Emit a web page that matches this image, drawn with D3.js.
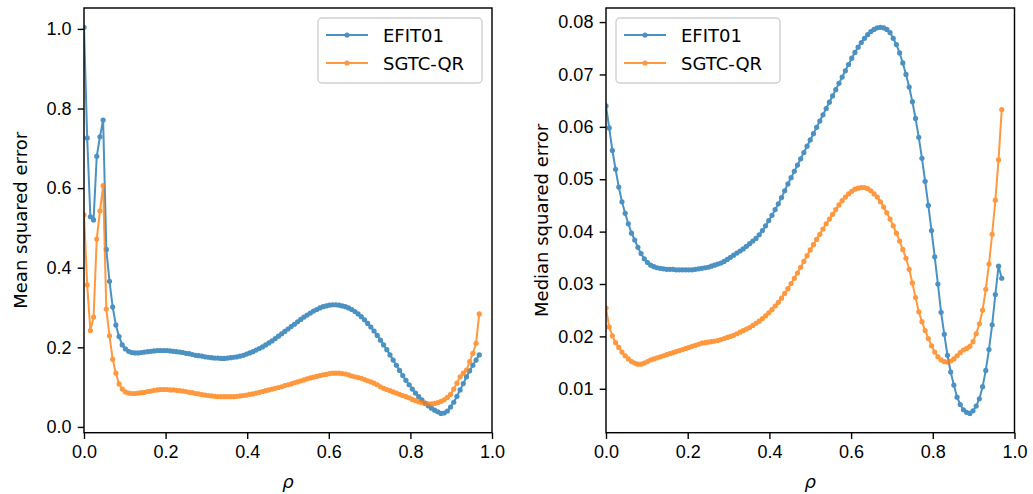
<!DOCTYPE html>
<html>
<head>
<meta charset="utf-8">
<script src="https://cdn.jsdelivr.net/npm/d3@7"></script>
<style>
  html, body { margin: 0; padding: 0; background: #fff; }
  svg { display: block; font-family: "DejaVu Sans", sans-serif; }
  .tick text { font-size: 18px; fill: #000; }
  .tick line { stroke: #000; stroke-width: 1.4px; }
</style>
</head>
<body>
<svg id="fig" width="1033" height="494"></svg>
<script>
// radial grid: 125 samples spaced 1/128 apart
const rho = d3.range(125).map(i => i / 128);

const seriesNames = ["EFIT01", "SGTC-QR"];
const seriesColors = ["#1f77b4", "#ff7f0e"];

// mean squared error per radial sample
const meanEFIT = [
  1.004, 0.726, 0.528, 0.520, 0.680, 0.729, 0.771, 0.446, 0.366, 0.301, 0.256, 0.227, 0.206,
  0.196, 0.190, 0.187, 0.186, 0.186, 0.187, 0.188, 0.189, 0.190, 0.191, 0.192, 0.192,
  0.192, 0.192, 0.191, 0.190, 0.189, 0.188, 0.187, 0.185, 0.184, 0.182, 0.180, 0.179,
  0.178, 0.176, 0.175, 0.174, 0.173, 0.173, 0.172, 0.172, 0.173, 0.174, 0.175, 0.176,
  0.178, 0.180, 0.183, 0.186, 0.189, 0.193, 0.197, 0.201, 0.206, 0.211, 0.216, 0.222,
  0.228, 0.234, 0.240, 0.246, 0.252, 0.258, 0.264, 0.270, 0.276, 0.281, 0.286, 0.291,
  0.295, 0.299, 0.302, 0.304, 0.306, 0.307, 0.307, 0.306, 0.304, 0.302,
  0.299, 0.295, 0.290, 0.284, 0.277, 0.269, 0.260, 0.251, 0.241, 0.230, 0.218, 0.206,
  0.194, 0.181, 0.168, 0.155, 0.142, 0.129, 0.117, 0.106, 0.095, 0.085, 0.076, 0.068,
  0.060, 0.053, 0.047, 0.042, 0.038, 0.034,
  0.035, 0.040, 0.050, 0.062, 0.077, 0.093, 0.109, 0.126, 0.141, 0.155, 0.168, 0.181
];
const meanSGTC = [
  0.533, 0.357, 0.242, 0.276, 0.472, 0.543, 0.606, 0.296, 0.229, 0.170, 0.135, 0.108, 0.095,
  0.088, 0.085, 0.084, 0.084, 0.085, 0.086, 0.087, 0.089, 0.090, 0.092, 0.093, 0.094,
  0.094, 0.094, 0.093, 0.093, 0.092, 0.091, 0.090, 0.089, 0.087, 0.086, 0.084, 0.083,
  0.081, 0.080, 0.079, 0.078, 0.077, 0.076, 0.076, 0.076, 0.076, 0.076, 0.076, 0.077,
  0.078, 0.079, 0.080, 0.082, 0.083, 0.085, 0.087, 0.089, 0.091, 0.093, 0.095, 0.097,
  0.099, 0.101, 0.104, 0.106, 0.108, 0.111, 0.113, 0.116, 0.118, 0.121, 0.123, 0.125,
  0.127, 0.129, 0.131, 0.132, 0.134, 0.135, 0.135, 0.135, 0.134, 0.133,
  0.131, 0.128, 0.126, 0.124, 0.122, 0.119, 0.116, 0.113, 0.110, 0.106, 0.101, 0.097,
  0.094, 0.091, 0.088, 0.085, 0.082, 0.079, 0.076, 0.073, 0.069, 0.066, 0.063, 0.061,
  0.059, 0.058, 0.058, 0.059, 0.061, 0.064,
  0.068, 0.074, 0.082, 0.095, 0.110, 0.126, 0.135, 0.143, 0.164, 0.185, 0.210, 0.284
];

// median squared error per radial sample
const medianEFIT = [
  0.0640, 0.0598, 0.0555, 0.0519, 0.0485, 0.0457, 0.0435, 0.0415, 0.0397, 0.0384, 0.0370, 0.0358, 0.0348,
  0.0341, 0.0336, 0.0333, 0.0331, 0.0330, 0.0329, 0.0328, 0.0328, 0.0328, 0.0327, 0.0327, 0.0327,
  0.0327, 0.0327, 0.0327, 0.0328, 0.0329, 0.0330, 0.0331, 0.0332, 0.0334, 0.0336, 0.0338, 0.0340,
  0.0343, 0.0347, 0.0351, 0.0355, 0.0359, 0.0363, 0.0367, 0.0372, 0.0377, 0.0382, 0.0387, 0.0394,
  0.0402, 0.0411, 0.0421, 0.0431, 0.0442, 0.0453, 0.0465, 0.0478, 0.0491, 0.0503, 0.0515, 0.0527,
  0.0539, 0.0551, 0.0563, 0.0575, 0.0587, 0.0599, 0.0611, 0.0623, 0.0635, 0.0647, 0.0659, 0.0671,
  0.0683, 0.0695, 0.0707, 0.0719, 0.0731, 0.0742, 0.0752, 0.0761, 0.0769, 0.0776,
  0.0782, 0.0786, 0.0789, 0.0790, 0.0789, 0.0786, 0.0780, 0.0769, 0.0757, 0.0741, 0.0722, 0.0700,
  0.0676, 0.0648, 0.0616, 0.0580, 0.0540, 0.0496, 0.0450, 0.0402, 0.0352, 0.0300, 0.0246, 0.0204,
  0.0164, 0.0132, 0.0107, 0.0084, 0.0070, 0.0060,
  0.0055, 0.0053, 0.0058, 0.0067, 0.0081, 0.0104, 0.0135, 0.0175, 0.0222, 0.0280, 0.0334, 0.0311
];
const medianSGTC = [
  0.0254, 0.0218, 0.0201, 0.0188, 0.0179, 0.0170, 0.0163, 0.0157, 0.0152, 0.0149, 0.0147, 0.0147, 0.0149,
  0.0152, 0.0155, 0.0157, 0.0159, 0.0161, 0.0163, 0.0165, 0.0167, 0.0169, 0.0171, 0.0173, 0.0175,
  0.0177, 0.0179, 0.0181, 0.0183, 0.0185, 0.0187, 0.0188, 0.0189, 0.0190, 0.0191, 0.0192, 0.0194,
  0.0196, 0.0198, 0.0200, 0.0202, 0.0205, 0.0208, 0.0211, 0.0214, 0.0217, 0.0221, 0.0225, 0.0229,
  0.0234, 0.0239, 0.0245, 0.0251, 0.0258, 0.0265, 0.0273, 0.0282, 0.0291, 0.0301, 0.0311, 0.0321,
  0.0332, 0.0343, 0.0354, 0.0365, 0.0375, 0.0385, 0.0395, 0.0405, 0.0415, 0.0424, 0.0433, 0.0442,
  0.0451, 0.0459, 0.0466, 0.0472, 0.0477, 0.0481, 0.0483, 0.0484, 0.0484, 0.0482,
  0.0478, 0.0472, 0.0466, 0.0457, 0.0447, 0.0436, 0.0424, 0.0411, 0.0397, 0.0382, 0.0366, 0.0349,
  0.0328, 0.0302, 0.0274, 0.0247, 0.0228, 0.0211, 0.0196, 0.0182, 0.0170, 0.0161, 0.0155, 0.0152,
  0.0151, 0.0153, 0.0157, 0.0163, 0.0169, 0.0174,
  0.0177, 0.0181, 0.0190, 0.0205, 0.0224, 0.0250, 0.0290, 0.0338, 0.0395, 0.0460, 0.0537, 0.0633
];

const xTicks = [0, 0.2, 0.4, 0.6, 0.8, 1.0];
const meanTicks = [0, 0.2, 0.4, 0.6, 0.8, 1.0];
const medianTicks = [0.01, 0.02, 0.03, 0.04, 0.05, 0.06, 0.07, 0.08];

const svg = d3.select("#fig");
const PT = 1.8; // px per point

function panel(opts) {
  const { left, top, width, height, series, yTicks, yFmt, ylabel, ylabelX, legendSide, id } = opts;
  const g = svg.append("g").attr("transform", `translate(${left},${top})`);

  const x = d3.scaleLinear().domain([0, 1]).range([0, width]);
  const all = series.flat();
  const lo = d3.min(all), hi = d3.max(all), pad = 0.05 * (hi - lo);
  const y = d3.scaleLinear().domain([lo - pad, hi + pad]).range([height, 0]);

  g.append("clipPath").attr("id", id).append("rect")
    .attr("width", width).attr("height", height);

  const plot = g.append("g").attr("clip-path", `url(#${id})`);
  const line = d3.line().x((d, i) => x(rho[i])).y(d => y(d));
  series.forEach((vals, s) => {
    const sg = plot.append("g").attr("opacity", 0.8);
    sg.append("path").datum(vals).attr("d", line)
      .attr("fill", "none").attr("stroke", seriesColors[s]).attr("stroke-width", 2);
    sg.selectAll("circle").data(vals).join("circle")
      .attr("cx", (d, i) => x(rho[i])).attr("cy", d => y(d))
      .attr("r", 2.6).attr("fill", seriesColors[s]);
  });

  const xa = g.append("g").attr("transform", `translate(0,${height})`)
    .call(d3.axisBottom(x).tickValues(xTicks).tickFormat(d3.format(".1f"))
      .tickSize(3.5 * PT).tickPadding(3.5 * PT).tickSizeOuter(0));
  const ya = g.append("g")
    .call(d3.axisLeft(y).tickValues(yTicks).tickFormat(yFmt)
      .tickSize(3.5 * PT).tickPadding(3.5 * PT).tickSizeOuter(0));
  [xa, ya].forEach(a => a.select(".domain").remove());

  g.append("rect").attr("width", width).attr("height", height)
    .attr("fill", "none").attr("stroke", "#000").attr("stroke-width", 0.8 * PT);

  g.append("text").attr("x", width / 2).attr("y", height + 55)
    .attr("text-anchor", "middle").attr("font-size", 18).attr("font-style", "italic")
    .text("ρ");

  svg.append("text")
    .attr("transform", `translate(${ylabelX},${top + height / 2}) rotate(-90)`)
    .attr("text-anchor", "middle").attr("font-size", 18)
    .text(ylabel);

  // legend box
  const lw = 164, lh = 65;
  const lx = legendSide === "right" ? width - 10 - lw : 10;
  const lg = g.append("g").attr("transform", `translate(${lx},10)`);
  lg.append("rect").attr("width", lw).attr("height", lh).attr("rx", 4)
    .attr("fill", "#fff").attr("fill-opacity", 0.8)
    .attr("stroke", "#d0d0d0").attr("stroke-width", 1.4);
  seriesNames.forEach((name, s) => {
    const cy = 17 + s * 28;
    const row = lg.append("g").attr("opacity", 0.8);
    row.append("line").attr("x1", 8).attr("x2", 50).attr("y1", cy).attr("y2", cy)
      .attr("stroke", seriesColors[s]).attr("stroke-width", 2);
    row.append("circle").attr("cx", 29).attr("cy", cy).attr("r", 2.6).attr("fill", seriesColors[s]);
    lg.append("text").attr("x", 65).attr("y", cy + 6.5).attr("font-size", 18).text(name);
  });
}

panel({
  id: "clipMean", left: 84, top: 8, width: 408, height: 424.7,
  series: [meanEFIT, meanSGTC], yTicks: meanTicks, yFmt: d3.format(".1f"),
  ylabel: "Mean squared error", ylabelX: 27, legendSide: "right"
});
panel({
  id: "clipMedian", left: 606, top: 8, width: 408.5, height: 424.7,
  series: [medianEFIT, medianSGTC], yTicks: medianTicks, yFmt: d3.format(".2f"),
  ylabel: "Median squared error", ylabelX: 548, legendSide: "left"
});
</script>
</body>
</html>
